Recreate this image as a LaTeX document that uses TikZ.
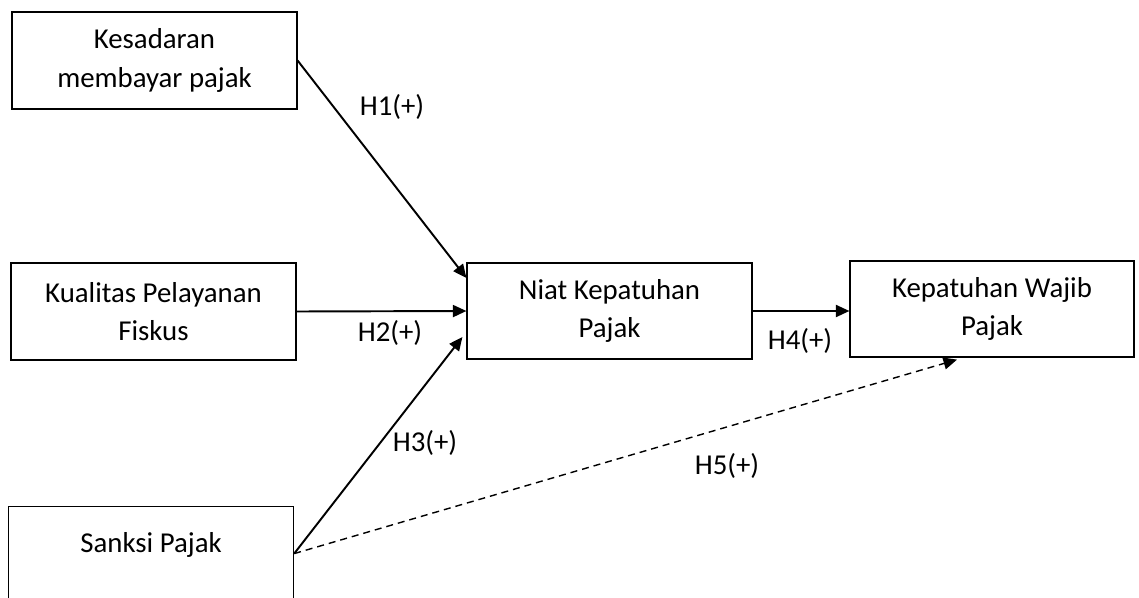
\documentclass[tikz,border=0pt]{standalone}
\usepackage{fontspec}
\setmainfont{Carlito}
\usetikzlibrary{arrows.meta}
\usetikzlibrary{positioning}

\tikzset{
  varbox/.style={draw, rectangle, line width=0.7pt, align=center, minimum width=5.7cm, minimum height=1.94cm, inner sep=0pt},
  hyparrow/.style={-{Triangle[length=0.27cm, width=0.24cm]}, line width=1.1pt},
  hyplabel/.style={inner sep=0pt}
}

\begin{document}
\begin{tikzpicture}[x=0.02cm, y=-0.02cm, font=\fontsize{16.4pt}{21.8pt}\selectfont]
            \useasboundingbox (0,0) rectangle (1139,598);
            \node[varbox] (kes) at (154.5,60.5) {Kesadaran\\membayar pajak};
            \node[varbox] (kual) at (153.5,311.5) {Kualitas Pelayanan\\Fiskus};
            \node[varbox, minimum height=0pt, text height=0.92cm, text depth=0.96cm, anchor=north west] (sank) at (8,506) {Sanksi Pajak};
            \node[varbox, minimum height=1.92cm] (niat) at (609.5,311) {Niat Kepatuhan\\Pajak};
            \node[varbox, minimum width=5.68cm, minimum height=1.92cm] (kep) at (992,309) {Kepatuhan Wajib\\Pajak};

            \draw[hyparrow] (kes.east) -- ([yshift=0.66cm]niat.west);
            \draw[hyparrow] (kual.east) -- (niat.west);
            \draw[hyparrow] (sank.east) -- ([xshift=-0.08cm, yshift=-0.52cm]niat.west);
            \draw[hyparrow] (niat.east) -- (niat.east -| kep.west);
            \draw[hyparrow, line width=0.8pt, dash pattern=on 0.14cm off 0.1cm] (sank.east) -- ([xshift=-0.7cm, yshift=-0.04cm]kep.south);

            \node[hyplabel] (h1) at (392,107) {H1(+)};
            \node[hyplabel] (h2) at (390,333) {H2(+)};
            \node[hyplabel] (h3) at (425,443) {H3(+)};
            \node[hyplabel] (h4) at (800,341) {H4(+)};
            \node[hyplabel] (h5) at (727,466) {H5(+)};
        \end{tikzpicture}
\end{document}
